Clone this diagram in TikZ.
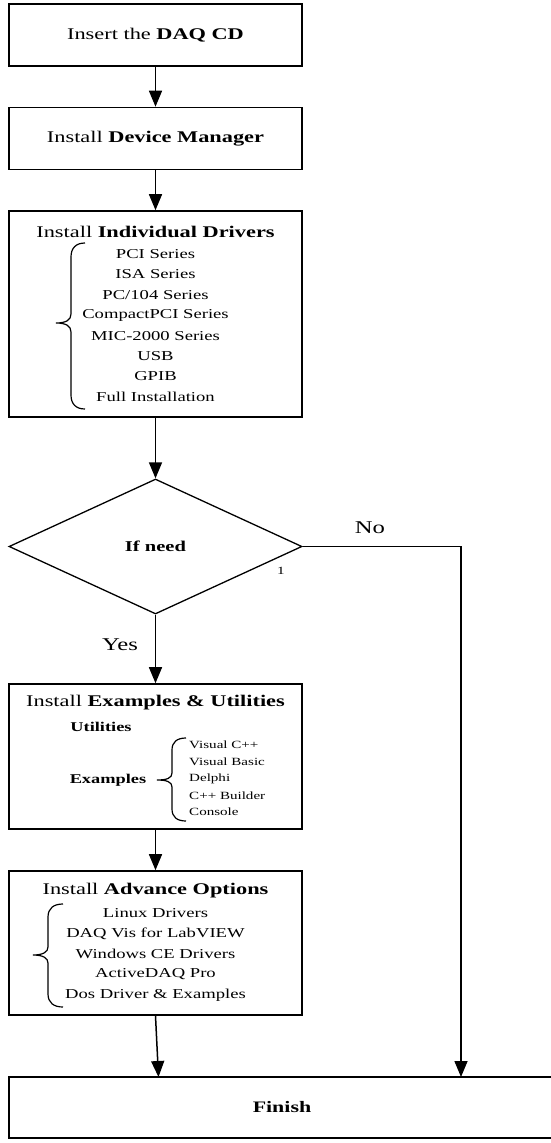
\documentclass[tikz,border=0pt]{standalone}
\usepackage{fontspec}
\setmainfont{Liberation Serif}[FakeStretch = 1.37]
\usetikzlibrary{arrows.meta, shapes.geometric}

\begin{document}
\begin{tikzpicture}[x = 1pt, y = -1pt,
        box/.style = {draw, line width = 1.6pt, minimum width = 293pt, inner sep = 0pt},
        arr/.style = {line width = 1.5pt, -{Triangle[width = 13pt, length = 16pt]}},
        curl/.style = {line width = 1.2pt},
        title/.style = {font = \fontsize{16.3}{19}\selectfont},
        entry/.style = {font = \fontsize{13.6}{16}\selectfont},
        small/.style = {font = \fontsize{11}{13}\selectfont, inner sep = 0pt, anchor = west},
        answer/.style = {font = \fontsize{18}{21}\selectfont}]
    \useasboundingbox (0,0) rectangle (551,1143);
    \node[box, title, minimum height = 62pt] (cd) at (155.5,35) {Insert the \textbf{DAQ CD}};
    \node[box, title, minimum height = 62pt] (dm) at (155.5,138.5) {Install \textbf{Device Manager}};
    \node[box, minimum height = 206pt] (drv) at (155.5,314) {};
    \node[diamond, draw, line width = 1.3pt, minimum width = 293pt, minimum height = 135pt, inner sep = 0pt,
        font = \fontsize{15}{18}\selectfont] (ifn) at (155.5,546.5) {\textbf{If need}};
    \node[box, minimum height = 145pt] (exa) at (155.5,756.5) {};
    \node[box, minimum height = 144pt] (adv) at (155.5,943) {};
    \node[box, minimum width = 546pt, minimum height = 61pt, font = \fontsize{16}{19}\selectfont] (fin) at (282,1107.5) {\textbf{Finish}};

    \node[title] (drvt) at (155.5,232) {Install \textbf{Individual Drivers}};
    \foreach \t [count = \i] in {PCI Series, ISA Series, PC/104 Series, CompactPCI Series, MIC-2000 Series, USB, GPIB, Full Installation}
        \node[entry] at (155.5, {254 + 20.4*(\i-1)}) {\t};
    \draw[curl] (85,243) .. controls (76,243) and (71,248) .. (71,257) -- (71,314) .. controls (71,320) and (66,323) .. (56,323)
        .. controls (66,323) and (71,326) .. (71,332) -- (71,395) .. controls (71,404) and (76,409) .. (85,409);

    \node[title] (exat) at (155.5,703) {Install \textbf{Examples \& Utilities}};
    \node[font = \fontsize{13.4}{16}\selectfont] (util) at (101,727) {\textbf{Utilities}};
    \node[font = \fontsize{13.4}{16}\selectfont] (expl) at (108,780) {\textbf{Examples}};
    \foreach \t [count = \i] in {Visual C++, Visual Basic, Delphi, C++ Builder, Console}
        \node[small] at (189, {745 + 16.75*(\i-1)}) {\t};
    \draw[curl] (186,738) .. controls (177,738) and (172,742) .. (172,750) -- (172,773) .. controls (172,778) and (167,780) .. (157,780)
        .. controls (167,780) and (172,782) .. (172,787) -- (172,809) .. controls (172,817) and (177,821) .. (186,821);

    \node[title] (advt) at (155.5,891) {Install \textbf{Advance Options}};
    \foreach \t [count = \i] in {Linux Drivers, DAQ Vis for LabVIEW, Windows CE Drivers, ActiveDAQ Pro, Dos Driver \& Examples}
        \node[entry] at (155.5, {913 + 20.5*(\i-1)}) {\t};
    \draw[curl] (63,904) .. controls (54,904) and (48,908) .. (48,917) -- (48,947) .. controls (48,952) and (43,955) .. (33,955)
        .. controls (43,955) and (48,958) .. (48,963) -- (48,994) .. controls (48,1003) and (54,1007) .. (63,1007);

    \node[answer] (no) at (370,528) {No};
    \node[answer] (yes) at (120,645) {Yes};
    \node[font = \fontsize{11}{12}\selectfont] (one) at (281,571) {1};
    \coordinate (nofoot) at (461,1077);
    \coordinate (advfoot) at (158.5,1077);

    \draw[arr] (cd) -- (dm);
    \draw[arr] (dm) -- (drv);
    \draw[arr] (drv) -- (ifn);
    \draw[arr] (ifn) -- (exa);
    \draw[arr] (ifn.east) -| (nofoot);
    \draw[arr] (exa) -- (adv);
    \draw[arr] (adv.south) -- (advfoot);
\end{tikzpicture}
\end{document}
